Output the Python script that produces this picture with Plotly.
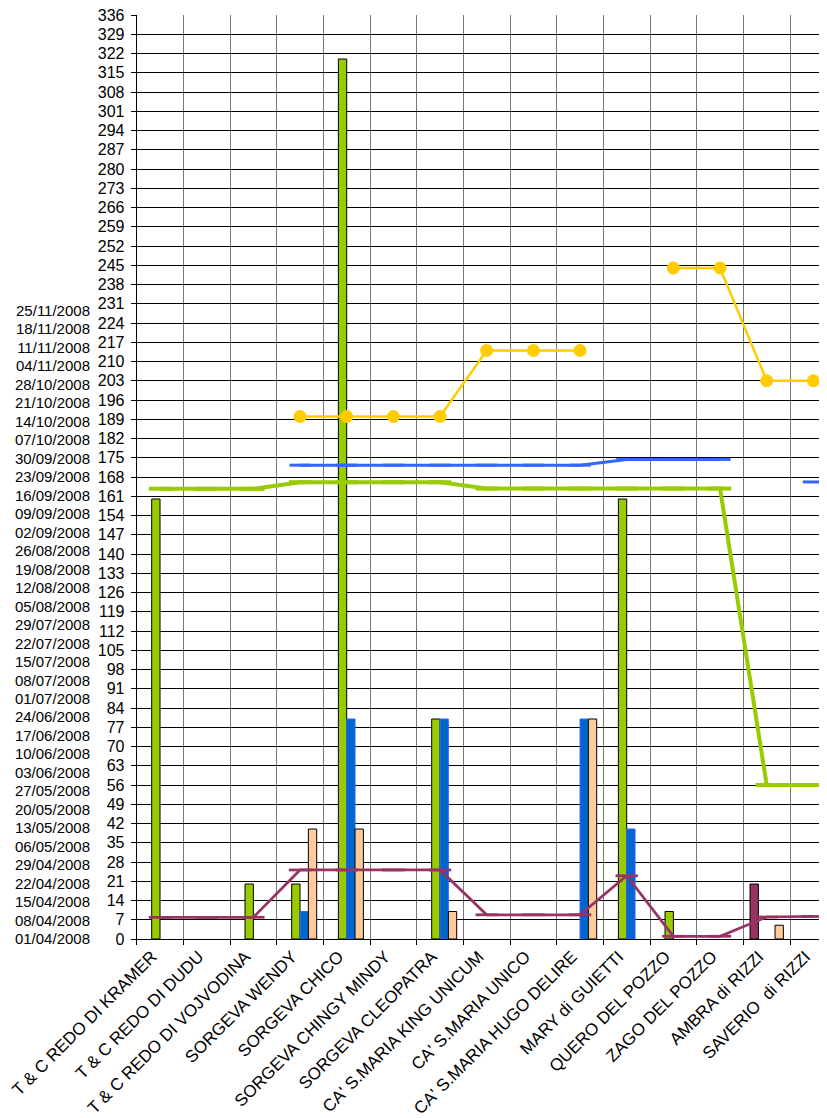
import plotly.graph_objects as go

categories = [
    "T & C REDO DI KRAMER", "T & C REDO DI DUDU", "T & C REDO DI VOJVODINA",
    "SORGEVA WENDY", "SORGEVA CHICO", "SORGEVA CHINGY MINDY", "SORGEVA CLEOPATRA",
    "CA' S.MARIA KING UNICUM", "CA' S.MARIA UNICO", "CA' S.MARIA HUGO DELIRE",
    "MARY di GUIETTI", "QUERO DEL POZZO", "ZAGO DEL POZZO", "AMBRA di RIZZI",
    "SAVERIO  di RIZZI",
]

# bar series
magenta_bars = [None, None, None, None, None, None, None, None, None, None, None, None, None, 20, None]
green_bars = [160, None, 20, 20, 320, None, 80, None, None, None, 160, 10, None, None, None]
blue_bars = [None, None, None, 10, 80, None, 80, None, None, 80, 40, None, None, None, None]
peach_bars = [None, None, None, 40, 40, None, 10, None, None, 80, None, None, None, 5, 10]

# line series
yellow_line = [None, None, None, 190, 190, 190, 190, 214, 214, 214, None, 244, 244, 203, 203]
blue_line = [None, None, None, 172.3, 172.3, 172.3, 172.3, 172.3, 172.3, 172.3, 174.4, 174.4, 174.4, None, 166.2]
green_line = [163.7, 163.7, 163.7, 166.1, 166.1, 166.1, 166.1, 163.8, 163.8, 163.8, 163.8, 163.8, 163.8, 56, 56]
purple_line = [7.9, 7.9, 7.9, 25.1, 25.1, 25.1, 25.1, 8.8, 8.8, 8.8, 23.0, 1.0, 1.0, 8.0, 8.2]

# axis ticks
value_ticks = list(range(0, 337, 7))
date_ticks = [
    "2008-04-01", "2008-04-08", "2008-04-15", "2008-04-22", "2008-04-29",
    "2008-05-06", "2008-05-13", "2008-05-20", "2008-05-27", "2008-06-03",
    "2008-06-10", "2008-06-17", "2008-06-24", "2008-07-01", "2008-07-08",
    "2008-07-15", "2008-07-22", "2008-07-29", "2008-08-05", "2008-08-12",
    "2008-08-19", "2008-08-26", "2008-09-02", "2008-09-09", "2008-09-16",
    "2008-09-23", "2008-09-30", "2008-10-07", "2008-10-14", "2008-10-21",
    "2008-10-28", "2008-11-04", "2008-11-11", "2008-11-18", "2008-11-25",
]
date_labels = [d[8:10] + "/" + d[5:7] + "/" + d[0:4] for d in date_ticks]

FONT = "Liberation Sans, Arial, sans-serif"

fig = go.Figure()

bar_specs = [
    (magenta_bars, "#993366", "#000000"),
    (green_bars, "#99CC00", "#000000"),
    (blue_bars, "#0066CC", "#3366FF"),
    (peach_bars, "#FFCC99", "#000000"),
]
for vals, fill, edge in bar_specs:
    fig.add_trace(go.Bar(x=categories, y=vals, marker=dict(color=fill, line=dict(color=edge, width=1)),
                         showlegend=False, hoverinfo="skip"))

line_specs = [
    (green_line, "#99CC00", 4, "line-ew", 16),
    (purple_line, "#993366", 2.75, "line-ew", 16),
    (blue_line, "#3366FF", 3, "line-ew", 15),
]
for vals, col, w, sym, sz in line_specs:
    fig.add_trace(go.Scatter(x=categories, y=vals, mode="lines+markers",
                             line=dict(color=col, width=w),
                             marker=dict(symbol=sym, size=sz, color=col, line=dict(color=col, width=w)),
                             connectgaps=False, showlegend=False, hoverinfo="skip"))

fig.add_trace(go.Scatter(x=categories, y=yellow_line, mode="lines+markers",
                         line=dict(color="#FFCC00", width=2.5),
                         marker=dict(symbol="circle", size=13, color="#FFCC00"),
                         connectgaps=False, showlegend=False, hoverinfo="skip"))

# empty trace so the date axis is drawn
fig.add_trace(go.Scatter(x=[], y=[], yaxis="y2", showlegend=False, hoverinfo="skip"))

# page body has an 8px margin
W, H = 819, 1110
plot_left = 128.7
plot_top = 7
plot_bottom = 931.3
fig.update_layout(
    template="none",
    width=W, height=H,
    margin=dict(l=0, r=0, t=plot_top, b=H - plot_bottom, pad=0),
    paper_bgcolor="white", plot_bgcolor="white",
    barmode="group", bargap=0.2857, bargroupgap=0,
    font=dict(family=FONT, color="#000000"),
    xaxis=dict(
        domain=[plot_left / W, 1], type="category", automargin=False,
        range=[-0.5, 14.292],
        tickson="boundaries", ticks="outside", ticklen=5, tickcolor="#000000",
        showgrid=True, gridcolor="#777777", gridwidth=1,
        showline=True, linecolor="#000000", linewidth=1,
        tickangle=-45, tickfont=dict(size=17, family=FONT),
        ticklabelshift=-8, ticklabeloverflow="allow",
    ),
    yaxis=dict(
        range=[0, 336], tickmode="array", tickvals=value_ticks, automargin=False,
        ticks="outside", ticklen=5, tickcolor="#000000",
        showgrid=True, gridcolor="#000000", gridwidth=1,
        showline=True, linecolor="#000000", linewidth=1,
        zeroline=False, tickfont=dict(size=16, family=FONT),
        ticklabelstandoff=3, ticklabeloverflow="allow",
    ),
    yaxis2=dict(
        type="date", overlaying="y", anchor="free", side="left", automargin=False,
        position=82 / W,
        range=["2008-04-01", "2009-03-17"],
        tickmode="array", tickvals=date_ticks, ticktext=date_labels,
        showgrid=False, zeroline=False, showline=False, ticks="",
        tickfont=dict(size=15, family=FONT), ticklabeloverflow="allow",
    ),
)

fig.write_html("out.html")
